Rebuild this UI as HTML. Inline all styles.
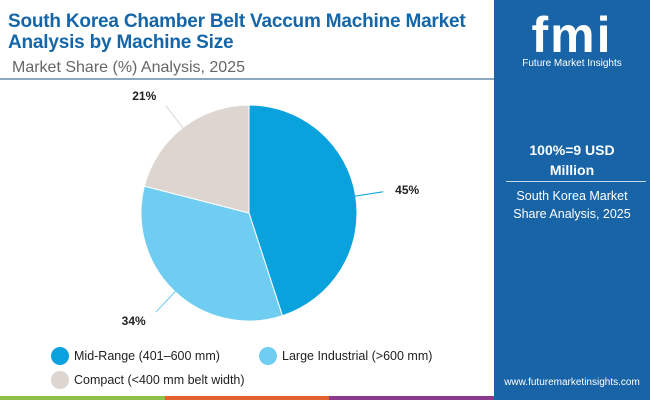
<!DOCTYPE html>
<html><head><meta charset="utf-8"><style>
body{margin:0;width:650px;height:400px;overflow:hidden;background:#fff;font-family:"Liberation Sans",sans-serif;position:relative}
.t{position:absolute;left:8px;top:11px;font-size:19px;font-weight:bold;color:#1466a8;line-height:21px;letter-spacing:-0.2px}
.s{position:absolute;left:12px;top:59px;font-size:16px;color:#666}
.hl{position:absolute;left:0;top:78px;width:494px;height:2px;background:#8aa8c0}
.panel{position:absolute;left:494px;top:0;width:156px;height:400px;background:#1864a6;color:#fff;text-align:center}
.leg{position:absolute;font-size:12.5px;color:#222}
.dot{position:absolute;width:18px;height:18px;border-radius:50%}
</style></head><body>
<div class="t">South Korea Chamber Belt Vaccum Machine Market<br>Analysis by Machine Size</div>
<div class="s">Market Share (%) Analysis, 2025</div>
<div class="hl"></div>
<svg id="pie" width="494" height="340" style="position:absolute;left:0;top:0"></svg>
<div class="dot" style="left:51px;top:347px;background:#0aa2dc"></div>
<div class="leg" style="left:74px;top:349px">Mid-Range (401–600 mm)</div>
<div class="dot" style="left:259px;top:347px;background:#6fcdf1"></div>
<div class="leg" style="left:282px;top:349px">Large Industrial (&gt;600 mm)</div>
<div class="dot" style="left:51px;top:371px;background:#ddd5d0"></div>
<div class="leg" style="left:74px;top:373px">Compact (&lt;400 mm belt width)</div>
<div style="position:absolute;left:0;top:396px;width:165px;height:4px;background:#8cc04a"></div>
<div style="position:absolute;left:165px;top:396px;width:164px;height:4px;background:#e2622e"></div>
<div style="position:absolute;left:329px;top:396px;width:165px;height:4px;background:#8c3a8c"></div>
<div class="panel">
<div style="position:absolute;left:0;width:156px;top:8px;font-size:50px;font-weight:bold;letter-spacing:2px;line-height:54px">fmi</div>
<div style="position:absolute;left:0;width:156px;top:58px;font-size:10px">Future Market Insights</div>
<div style="position:absolute;left:0;width:156px;top:140px;font-size:14px;font-weight:bold;line-height:20px">100%=9 USD<br>Million</div>
<div style="position:absolute;left:12px;width:140px;top:181px;height:1px;background:#c8d8e8"></div>
<div style="position:absolute;left:0;width:156px;top:187px;font-size:12.5px;line-height:18px">South Korea Market<br>Share Analysis, 2025</div>
<div style="position:absolute;left:0;width:156px;top:377px;font-size:10px">www.futuremarketinsights.com</div>
</div>
<script>
const categories=["Mid-Range (401–600 mm)","Large Industrial (>600 mm)","Compact (<400 mm belt width)"];
const shares=[45,34,21];
const labels=["45%","34%","21%"];
const colors=["#0aa2dc","#6fcdf1","#ddd5d0"];
const svg=document.getElementById('pie');const NS="http://www.w3.org/2000/svg";
const cx=249,cy=213,r=108;
const total=shares.reduce((a,b)=>a+b,0);
let a0=-Math.PI/2;
shares.forEach((v,i)=>{
 const a1=a0+v/total*2*Math.PI;
 const x0=cx+r*Math.cos(a0),y0=cy+r*Math.sin(a0),x1=cx+r*Math.cos(a1),y1=cy+r*Math.sin(a1);
 const p=document.createElementNS(NS,'path');
 p.setAttribute('d',`M${cx},${cy}L${x0},${y0}A${r},${r} 0 ${a1-a0>Math.PI?1:0} 1 ${x1},${y1}Z`);
 p.setAttribute('fill',colors[i]);p.setAttribute('stroke','#fff');p.setAttribute('stroke-width','1');
 
 
 svg.appendChild(p);
 const am=(a0+a1)/2,c=Math.cos(am),s=Math.sin(am);
 const l=document.createElementNS(NS,'line');
 l.setAttribute('x1',cx+(r-2)*c);l.setAttribute('y1',cy+(r-2)*s);
 l.setAttribute('x2',cx+(r+28)*c);l.setAttribute('y2',cy+(r+28)*s);
 l.setAttribute('stroke',colors[i]);l.setAttribute('stroke-width','1');
 
 
 svg.appendChild(l);
 const t=document.createElementNS(NS,'text');
 const tx=cx+(r+40)*c,ty=cy+(r+40)*s;
 t.setAttribute('x',tx+(c>0?0:-2));t.setAttribute('y',ty+4);
 t.setAttribute('text-anchor',c>0?'start':'end');
 t.setAttribute('font-size','12');t.setAttribute('font-weight','bold');t.setAttribute('fill','#222');
 t.setAttribute('font-family','Liberation Sans, sans-serif');
 t.textContent=labels[i];
 
 
 svg.appendChild(t);
 a0=a1;
});
</script>
</body></html>
